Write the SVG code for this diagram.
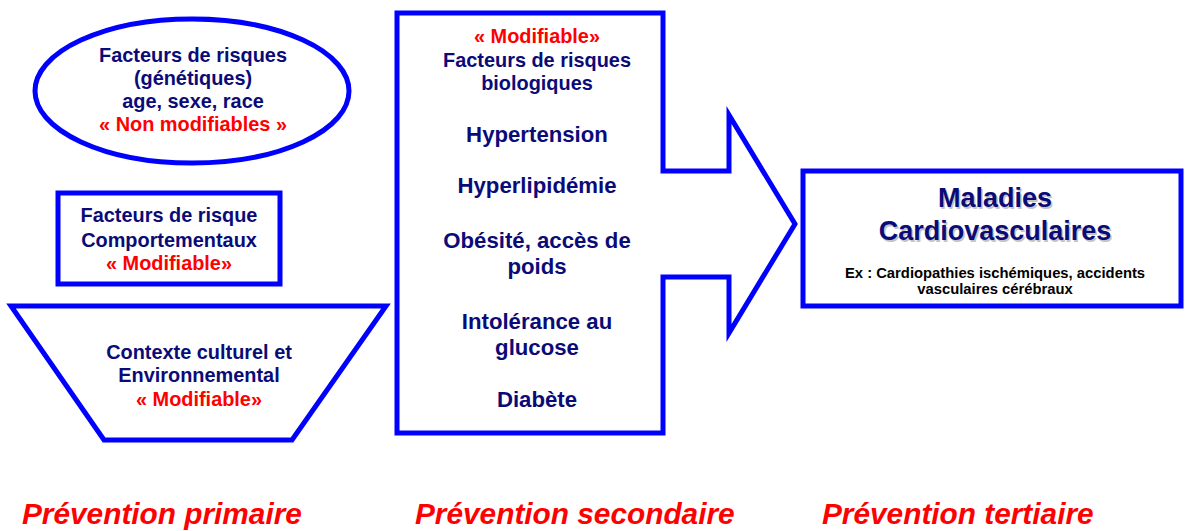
<svg xmlns="http://www.w3.org/2000/svg" width="1188" height="531" viewBox="0 0 1188 531">
<defs>
<style>
.shape{fill:#ffffff;stroke:#0000ff;stroke-width:5;stroke-linejoin:miter}
.t{font-family:"Liberation Sans",Arial,sans-serif;font-weight:bold;fill:#0b0b78;text-anchor:middle}
.r{fill:#ff0000}
.s19{font-size:19.9px}
.s22{font-size:22.2px}
.big{font-size:27px}
.ex{font-size:14.8px;fill:#000000}
.prev{font-family:"Liberation Sans",Arial,sans-serif;font-weight:bold;font-style:italic;font-size:29.8px;fill:#ff0000}
.shadow{fill:#c4c4c4}
</style>
</defs>
<rect width="1188" height="531" fill="#ffffff"/>

<g id="genetiques">
<ellipse class="shape" cx="192" cy="91" rx="157" ry="72"/>
<text class="t s19" x="193" y="62">Facteurs de risques</text>
<text class="t s19" x="193" y="85">(génétiques)</text>
<text class="t s19" x="193" y="108">age, sexe, race</text>
<text class="t s19 r" x="193" y="131">« Non modifiables »</text>
</g>

<g id="comportementaux">
<rect class="shape" x="58" y="193" width="222" height="91"/>
<text class="t s19" x="169" y="222">Facteurs de risque</text>
<text class="t s19" x="169" y="247">Comportementaux</text>
<text class="t s19 r" x="169" y="270">« Modifiable»</text>
</g>

<g id="contexte">
<polygon class="shape" points="11,306 386,306 292,440 104,440"/>
<text class="t s19" x="199" y="359">Contexte culturel et</text>
<text class="t s19" x="199" y="382">Environnemental</text>
<text class="t s19 r" x="199" y="406">« Modifiable»</text>
</g>

<g id="biologiques">
<polygon class="shape" points="397,13 663,13 663,171 729,171 729,115 795,224 729,333 729,277 663,277 663,433 397,433"/>
<text class="t s19 r" x="537" y="43">« Modifiable»</text>
<text class="t s19" x="537" y="67">Facteurs de risques</text>
<text class="t s19" x="537" y="90">biologiques</text>
<text class="t s22" x="537" y="142">Hypertension</text>
<text class="t s22" x="537" y="193">Hyperlipidémie</text>
<text class="t s22" x="537" y="248">Obésité, accès de</text>
<text class="t s22" x="537" y="274">poids</text>
<text class="t s22" x="537" y="329">Intolérance au</text>
<text class="t s22" x="537" y="355">glucose</text>
<text class="t s22" x="537" y="407">Diabète</text>
</g>

<g id="maladies">
<rect class="shape" x="803" y="171" width="378" height="135"/>
<text class="t big shadow" x="996.5" y="208.5">Maladies</text>
<text class="t big shadow" x="996.5" y="241.5">Cardiovasculaires</text>
<text class="t big" x="995" y="207">Maladies</text>
<text class="t big" x="995" y="240">Cardiovasculaires</text>
<text class="t ex" x="995" y="278">Ex : Cardiopathies ischémiques, accidents</text>
<text class="t ex" x="995" y="294">vasculaires cérébraux</text>
</g>

<g id="connectors"></g>

<g id="labels">
<text class="prev" x="22" y="524">Prévention primaire</text>
<text class="prev" x="415" y="524">Prévention secondaire</text>
<text class="prev" x="822" y="524">Prévention tertiaire</text>
</g>
</svg>
